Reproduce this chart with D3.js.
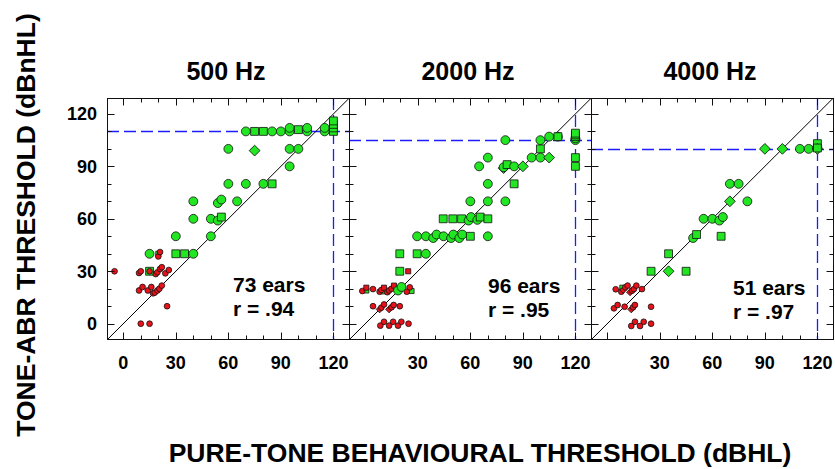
<!DOCTYPE html>
<html><head><meta charset="utf-8">
<script src="https://cdn.jsdelivr.net/npm/d3@7"></script>
<style>body{margin:0;background:#fff}svg{display:block}text{font-family:"Liberation Sans",Arial,sans-serif;font-weight:bold;fill:#000}</style>
</head><body><div id="chart"></div>
<script>
// ---- data (x = behavioural dBHL, y = tone-ABR dBnHL, shape: c circle, s square, d diamond) ----
const panelTitles = ["500 Hz", "2000 Hz", "4000 Hz"];
const earsLabels = ["73 ears", "96 ears", "51 ears"];
const rLabels = ["r = .94", "r = .95", "r = .97"];
const ceilings = [110, 105, 100];          // horizontal dashed line (max ABR level)
const behaviouralMax = 120;                 // vertical dashed line
const xTickLabels = [[0, 30, 60, 90, 120], [30, 60, 90, 120], [30, 60, 90, 120]];
const yTickLabels = [0, 30, 60, 90, 120];

const green500 = [
  [70,110,"c"],[75,110,"s"],[80,110,"s"],[85,110,"c"],[90,110,"c"],[95,110,"c"],[95,112,"c"],
  [100,111,"s"],[105,110,"c"],[105,112,"c"],[115,110,"c"],[115,112,"c"],
  [120,110,"s"],[120,112,"s"],[120,114,"s"],[120,116,"s"],
  [60,100,"c"],[75,99,"d"],[95,100,"c"],[100,100,"c"],[95,90,"c"],
  [60,80,"c"],[70,80,"c"],[80,80,"c"],[85,80,"s"],
  [40,70,"c"],[54,69,"c"],[56,71,"c"],[65,70,"c"],
  [40,60,"c"],[50,60,"c"],[54,59,"c"],[56,61,"s"],
  [30,50,"c"],[50,50,"c"],
  [15,40,"c"],[30,40,"s"],[35,40,"s"],[40,40,"c"],
  [15,30,"s"]
];
const greenSmall500 = [[20,40,"s"]];
const red500 = [
  [-5,30,"c"],[9,29,"c"],[10,30,"c"],[15,30,"c"],
  [18.5,28.4,"c"],[19.5,29.4,"c"],[21,31.3,"c"],[22,32.3,"c"],[24,28.8,"c"],[26,30.7,"c"],
  [20,38.5,"c"],[21,41,"c"],
  [9,19,"c"],[11,21,"c"],[14,19,"c"],[16,21,"c"],[17,17.4,"c"],[18,17.8,"c"],[19.5,19,"c"],[20.6,20,"c"],[22,21.8,"c"],
  [25,10,"c"],[10,0,"c"],[15,0,"c"]
];

const green2000 = [
  [80,105,"c"],[100,105,"c"],[105,107,"c"],[110,107,"c"],[110,107,"s"],
  [120,105,"c"],[120,106,"c"],[120,107,"s"],[120,108,"s"],[120,109,"s"],
  [120,95,"s"],[120,90,"s"],[100,100,"s"],
  [95,95,"c"],[100,95,"c"],[105,95,"d"],[70,95,"c"],[65,90,"c"],
  [79,89,"d"],[79,89.5,"c"],[81,91,"s"],[85,90,"c"],[90,90,"d"],
  [85,80,"s"],[70,80,"c"],
  [60,70,"c"],[70,70,"c"],[80,70,"c"],
  [44.5,60,"s"],[50,60,"s"],[55,60,"s"],[59,59,"c"],[60.4,61,"c"],[64,59.4,"c"],[65.6,61,"s"],[70,60,"s"],
  [70,50,"c"],
  [29.6,50,"c"],[34.6,50,"c"],[38.8,49,"c"],[40.7,51,"c"],[44.7,50,"c"],[49,49,"c"],[50.3,51,"c"],[53.7,49,"c"],[55.4,51,"c"],
  [60,50,"s"],
  [19.7,40,"s"],[29.6,40,"s"],[34.6,40,"c"],
  [19.7,30,"s"]
];
const greenSmall2000 = [[0.6,19,"s"],[10,18.5,"s"],[26.4,18.7,"s"]];
const red2000 = [
  [-1.7,18.7,"c"],[0.6,20.6,"s"],[4.4,19.8,"c"],
  [8.2,18.3,"c"],[9.2,19.3,"c"],[10.7,20.6,"s"],
  [12.6,18,"c"],[13.6,19,"c"],[15,20,"c"],[16.4,21.8,"s"],
  [23.7,18.3,"c"],[25.4,20.8,"c"],[24.5,30,"s"],
  [4.4,10,"c"],[8.2,8.2,"d"],[9.2,9.2,"c"],[10.7,11,"c"],[13.6,8.2,"d"],[15,9.4,"c"],[16.2,10.7,"c"],[19.7,10,"c"],
  [8.6,-1.1,"c"],[10.7,1.1,"c"],[13.6,-1.1,"c"],[15.9,1.1,"c"],[18.7,-1.1,"c"],[20.6,1.1,"c"],[24.7,0,"c"]
];
const green2000Top = [[18.7,19,"c"],[20.7,21,"c"]];

const green4000 = [
  [90,100,"d"],[100,100,"d"],[110,100,"c"],[115,100,"c"],
  [120,101,"c"],[120,103,"s"],[120,100,"d"],[120,100.5,"s"],
  [70,80,"c"],[75,80,"c"],[80,70,"c"],[70,70,"d"],
  [55,60,"c"],[60,60,"c"],[64,59,"c"],[66,61,"c"],
  [49,49,"c"],[51,51,"s"],[65,50,"s"],
  [35,40,"s"],[25,30,"s"],[45,30,"s"],[35,30,"d"]
];
const greenSmall4000 = [[8.6,20.6,"s"]];
const red4000 = [
  [4.8,19.7,"c"],[8,18.3,"c"],[9.1,19.3,"d"],[10.3,20.8,"c"],[11.6,21.8,"c"],
  [13,18,"d"],[14.1,18.9,"c"],[15.2,19.8,"c"],[16.6,21.8,"c"],[19.8,19.8,"c"],
  [3.8,8.8,"c"],[5.9,10.7,"c"],[9.9,9.7,"c"],[13.7,8.2,"d"],[14.7,9.4,"c"],[15.8,10.7,"c"],[25,9.7,"c"],
  [13.7,-1.3,"c"],[15.8,1.1,"c"],[18.7,-1.3,"c"],[20.8,1.1,"c"],[25,0,"c"]
];

const panels = [
  {red: red500, greenSmall: greenSmall500, green: green500, greenTop: []},
  {red: red2000, greenSmall: greenSmall2000, green: green2000, greenTop: green2000Top},
  {red: red4000, greenSmall: greenSmall4000, green: green4000, greenTop: []}
];

// ---- layout ----
const W = 835, H = 469;
const panelLeft0 = 107, panelW = 242, plotTop = 98, plotBottom = 339;
const xDomain = [-9.3, 128.9], yDomain = [-8.75, 129.1];
const GREEN = "#22e622", RED = "#e8121a", BLUE = "#1c1cff";

const svg = d3.select("#chart").append("svg").attr("width", W).attr("height", H);
svg.append("rect").attr("width", W).attr("height", H).attr("fill", "#fff");

const yScale = d3.scaleLinear().domain(yDomain).range([plotBottom, plotTop]);
const crisp = v => Math.round(v) + 0.5;

function markerPath(shape, big) {
  if (shape === "c") return d3.symbol(d3.symbolCircle, big ? 62 : 26)();
  if (shape === "s") return d3.symbol(d3.symbolSquare, big ? 62 : 26)();
  return d3.symbol(d3.symbolSquare, big ? 58 : 24)();
}

panels.forEach((p, i) => {
  const x0 = panelLeft0 + i * panelW;
  const x = d3.scaleLinear().domain(xDomain).range([x0, x0 + panelW]);
  const y = yScale;
  const g = svg.append("g");
  const clipId = "clip" + i;
  svg.append("clipPath").attr("id", clipId).append("rect")
    .attr("x", x0).attr("y", plotTop).attr("width", panelW).attr("height", plotBottom - plotTop);
  const inner = g.append("g").attr("clip-path", `url(#${clipId})`);

  inner.append("line").attr("x1", x0).attr("x2", x0 + panelW)
    .attr("y1", crisp(y(ceilings[i]))).attr("y2", crisp(y(ceilings[i])))
    .attr("stroke", BLUE).attr("stroke-width", 1.3).attr("stroke-dasharray", "12,5");
  inner.append("line").attr("x1", crisp(x(behaviouralMax))).attr("x2", crisp(x(behaviouralMax)))
    .attr("y1", plotTop).attr("y2", plotBottom)
    .attr("stroke", BLUE).attr("stroke-width", 1.3).attr("stroke-dasharray", "12,5");
  inner.append("line").attr("x1", x(-20)).attr("y1", y(-20)).attr("x2", x(140)).attr("y2", y(140))
    .attr("stroke", "#000").attr("stroke-width", 1);

  const drawSet = (data, fill, big) => {
    inner.append("g").selectAll("path").data(data).join("path")
      .attr("d", d => markerPath(d[2], big))
      .attr("transform", d => `translate(${x(d[0])},${y(d[1])})` + (d[2] === "d" ? " rotate(45)" : ""))
      .attr("fill", fill).attr("stroke", "#111").attr("stroke-width", 0.8);
  };
  drawSet(p.greenSmall, GREEN, false);
  drawSet(p.green, GREEN, true);
  drawSet(p.red, RED, false);
  drawSet(p.greenTop, GREEN, true);

  g.append("rect").attr("x", x0 + 0.5).attr("y", plotTop + 0.5).attr("width", panelW).attr("height", plotBottom - plotTop)
    .attr("fill", "none").attr("stroke", "#111").attr("stroke-width", 1);

  const ticks = d3.range(0, 121, 10);
  const len = v => (v % 30 === 0 ? 7 : 4);
  ticks.forEach(v => {
    const px = crisp(x(v)), py = crisp(y(v));
    g.append("line").attr("x1", px).attr("x2", px).attr("y1", plotBottom + 0.5).attr("y2", plotBottom + 0.5 - len(v)).attr("stroke", "#111");
    g.append("line").attr("x1", px).attr("x2", px).attr("y1", plotTop + 0.5).attr("y2", plotTop + 0.5 + len(v)).attr("stroke", "#111");
    g.append("line").attr("y1", py).attr("y2", py).attr("x1", x0 + 0.5).attr("x2", x0 + 0.5 + len(v)).attr("stroke", "#111");
    g.append("line").attr("y1", py).attr("y2", py).attr("x1", x0 + panelW + 0.5).attr("x2", x0 + panelW + 0.5 - len(v)).attr("stroke", "#111");
  });

  g.selectAll("text.xt").data(xTickLabels[i]).join("text").attr("class", "xt")
    .attr("x", d => x(d)).attr("y", 369).attr("text-anchor", "middle")
    .attr("font-size", 18).text(d => d);

  if (i === 0) {
    g.selectAll("text.yt").data(yTickLabels).join("text").attr("class", "yt")
      .attr("x", 97).attr("y", d => y(d) + 6.5).attr("text-anchor", "end")
      .attr("font-size", 18).text(d => d);
  }

  g.append("text").attr("x", x0 + panelW / 2 - 2).attr("y", 80).attr("text-anchor", "middle")
    .attr("font-size", 25).text(panelTitles[i]);

  const annX = [233, 488, 733][i], annY = [292, 293, 295][i];
  g.append("text").attr("x", annX).attr("y", annY).attr("font-size", 21).text(earsLabels[i]);
  g.append("text").attr("x", annX).attr("y", annY + 24).attr("font-size", 21).text(rLabels[i]);
});

svg.append("text").attr("transform", "translate(35,225) rotate(-90)").attr("text-anchor", "middle")
  .attr("font-size", 26.5).text("TONE-ABR THRESHOLD (dBnHL)");
svg.append("text").attr("x", 480).attr("y", 462).attr("text-anchor", "middle")
  .attr("font-size", 26.5).text("PURE-TONE BEHAVIOURAL THRESHOLD (dBHL)");
</script></body></html>
